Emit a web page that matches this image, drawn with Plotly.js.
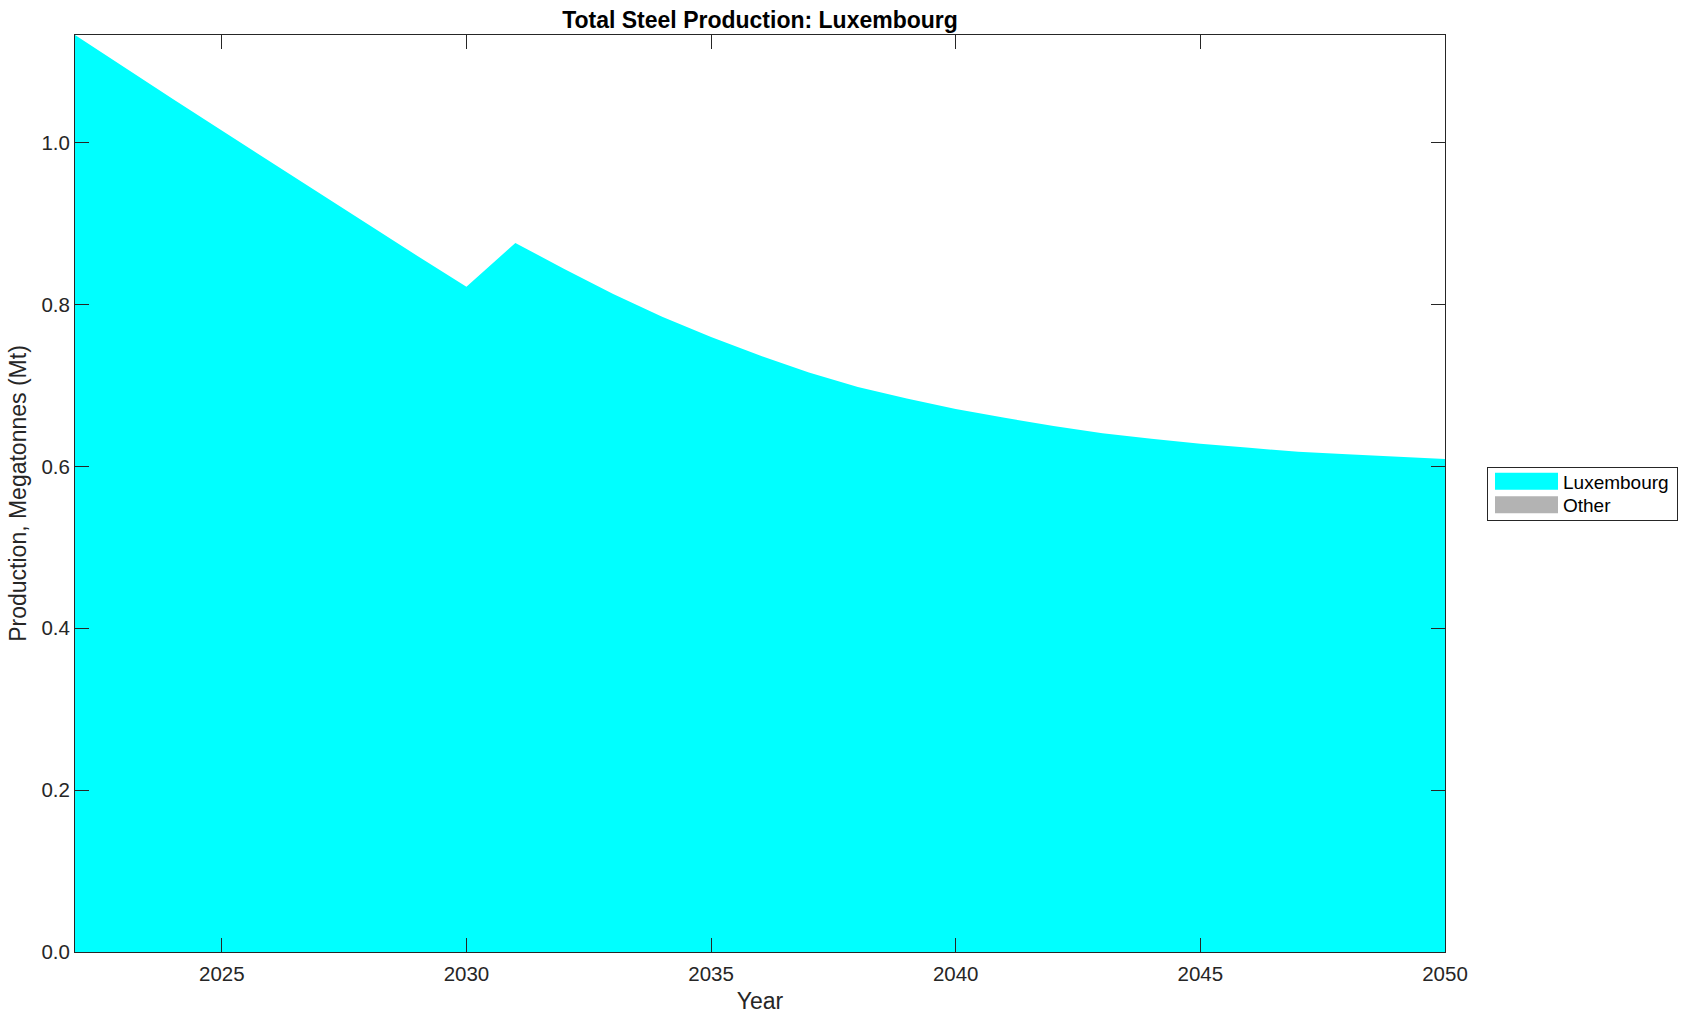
<!DOCTYPE html>
<html>
<head>
<meta charset="utf-8">
<script src="https://cdn.plot.ly/plotly-3.0.1.min.js"></script>
<style>
  html, body { margin: 0; padding: 0; background: #fff; }
  #chart { width: 1688px; height: 1021px; }
</style>
</head>
<body>
<div id="chart"></div>
<script>
// ---- Data ----
const years = [2022, 2023, 2024, 2025, 2026, 2027, 2028, 2029, 2030, 2031,
               2032, 2033, 2034, 2035, 2036, 2037, 2038, 2039, 2040, 2041,
               2042, 2043, 2044, 2045, 2046, 2047, 2048, 2049, 2050];
const luxembourg = [1.133, 1.093, 1.054, 1.015, 0.976, 0.937, 0.898, 0.860, 0.822, 0.876,
                    0.844, 0.813, 0.785, 0.760, 0.737, 0.716, 0.698, 0.684, 0.671, 0.660,
                    0.650, 0.641, 0.634, 0.628, 0.623, 0.618, 0.615, 0.612, 0.609];
const other = [0, 0, 0, 0, 0, 0, 0, 0, 0, 0,
               0, 0, 0, 0, 0, 0, 0, 0, 0, 0,
               0, 0, 0, 0, 0, 0, 0, 0, 0];
const seriesNames = ["Luxembourg", "Other"];
const seriesColors = ["#00FFFF", "#B3B3B3"];
const xTicks = [2025, 2030, 2035, 2040, 2045, 2050];
const yTicks = [0, 0.2, 0.4, 0.6, 0.8, 1.0];

const FONT = '"Liberation Sans", Arial, Helvetica, sans-serif';
const AX = '#262626';

const traces = [luxembourg, other].map((vals, i) => ({
  type: 'scatter',
  mode: 'lines',
  x: years,
  y: vals,
  name: seriesNames[i],
  stackgroup: 'one',
  fillcolor: seriesColors[i],
  line: { width: 0, color: seriesColors[i] },
  hoverinfo: 'x+y+name'
}));

const layout = {
  width: 1688,
  height: 1021,
  paper_bgcolor: '#ffffff',
  plot_bgcolor: '#ffffff',
  margin: { l: 75, r: 243, t: 35, b: 69, pad: 0 },
  font: { family: FONT, color: AX, size: 20 },
  title: {
    text: '<b>Total Steel Production: Luxembourg</b>',
    font: { family: FONT, size: 23, color: '#000000' },
    x: 0.5, xref: 'paper', xanchor: 'center',
    y: 0.9805, yref: 'container', yanchor: 'middle'
  },
  xaxis: {
    range: [2022, 2050],
    tickvals: xTicks,
    ticktext: xTicks.map(String),
    ticks: 'inside', ticklen: 14, tickwidth: 1, tickcolor: AX,
    ticklabelstandoff: 3,
    showline: true, linecolor: AX, linewidth: 1, mirror: 'ticks',
    showgrid: false, zeroline: false,
    tickfont: { family: FONT, size: 20.5, color: AX },
    title: { text: 'Year', font: { family: FONT, size: 23, color: AX }, standoff: 9 },
    automargin: false
  },
  yaxis: {
    range: [0, 1.133],
    tickvals: yTicks,
    ticktext: yTicks.map(v => v.toFixed(1)),
    ticks: 'inside', ticklen: 14, tickwidth: 1, tickcolor: AX,
    showline: true, linecolor: AX, linewidth: 1, mirror: 'ticks',
    showgrid: false, zeroline: false,
    tickfont: { family: FONT, size: 20.5, color: AX },
    title: { text: 'Production, Megatonnes (Mt)', font: { family: FONT, size: 23, color: AX }, standoff: 8 },
    automargin: false
  },
  showlegend: true,
  legend: {
    x: 1.0307, xanchor: 'left',
    y: 0.499, yanchor: 'middle',
    traceorder: 'normal',
    bgcolor: '#ffffff',
    bordercolor: AX, borderwidth: 1,
    font: { family: FONT, size: 19, color: '#000000' },
    itemwidth: 63,
    tracegroupgap: 0
  }
};

// Compact legend rows / swatches to match the reference legend box
function fixLegend() {
  const gd = document.getElementById('chart');
  const leg = gd.querySelector('g.legend');
  if (!leg) return;
  const boxW = 190, boxH = 53, rowGap = 23.4, firstRow = 14.3;
  leg.setAttribute('transform', 'translate(1487,467)');
  const bg = leg.querySelector('rect.bg');
  if (bg) { bg.setAttribute('width', boxW); bg.setAttribute('height', boxH); }
  leg.querySelectorAll('.traces').forEach((g, i) => {
    g.setAttribute('transform', 'translate(3,' + (firstRow + i * rowGap) + ')');
    g.querySelectorAll('.legendfill path.js-fill').forEach(p => {
      p.setAttribute('d', 'M5,-8.5h63v17h-63z');
    });
    g.querySelectorAll('.legendlines path.js-line').forEach(p => {
      p.style.display = 'none';
    });
  });
}

Plotly.newPlot('chart', traces, layout, { displayModeBar: false, responsive: false })
  .then(gd => { fixLegend(); gd.on('plotly_afterplot', fixLegend); });
</script>
</body>
</html>
